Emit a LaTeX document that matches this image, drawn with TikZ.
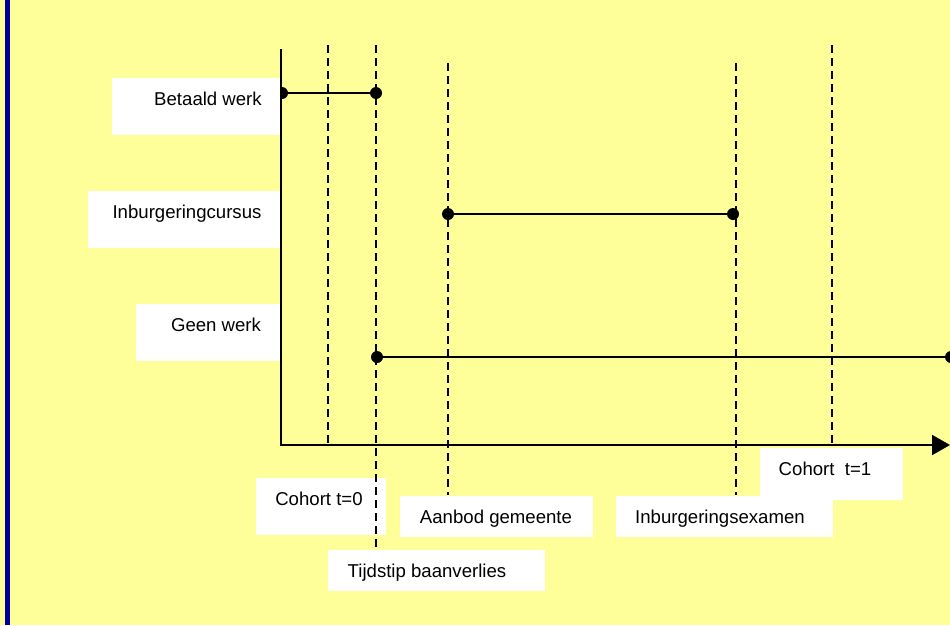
\documentclass[tikz,border=0pt]{standalone}
\usepackage{fontspec}
\setmainfont{Liberation Sans}
\usetikzlibrary{arrows.meta}
\definecolor{bgyellow}{HTML}{FFFF99}
\definecolor{bordblue}{HTML}{000099}
\tikzset{
  lbl/.style={anchor=base, inner sep=0pt, font=\fontsize{18.6}{22}\selectfont},
  wbox/.style={fill=white, draw=none},
  tline/.style={line width=2pt, draw=black},
  vdash/.style={line width=2pt, draw=black, dash pattern=on 8pt off 5pt},
  dot/.style={circle, fill=black, draw=none, minimum size=12pt, inner sep=0pt},
  axis/.style={line width=2pt, draw=black},
}
\begin{document}
\begin{tikzpicture}[x=1pt, y=-1pt]
\useasboundingbox (0,0) rectangle (950,625);
\begin{scope}
\clip (0,0) rectangle (950,625);
% background
\fill[bgyellow] (0,0) rectangle (950,625);
\fill[bordblue] (5,0) rectangle (10,625);

% state lines with dots
\node[dot] (bw1) at (282,93) {};
\node[dot] (bw2) at (376,93) {};
\draw[tline] (bw1) -- (bw2);
\node[dot] (ic1) at (448,214) {};
\node[dot] (ic2) at (733,214) {};
\draw[tline] (ic1) -- (ic2);
\node[dot] (gw1) at (377,357) {};
\node[dot] (gw2) at (951,357) {};
\draw[tline] (gw1) -- (gw2);

% white label boxes
\fill[wbox] (112,78) rectangle (281,135);
\fill[wbox] (88,191) rectangle (281,248);
\fill[wbox] (136,304) rectangle (281,361);
\fill[wbox] (256,478) rectangle (386,535);
\fill[wbox] (400,496) rectangle (593,537);
\fill[wbox] (328,550) rectangle (545,591);
\fill[wbox] (616,496) rectangle (833,537);
\fill[wbox] (760,448) rectangle (903,500);

% dashed time markers
\coordinate (d1t) at (328,45); \coordinate (d1b) at (328,443);
\coordinate (d2t) at (376,45); \coordinate (d2b) at (376,550);
\coordinate (d3t) at (448,63); \coordinate (d3b) at (448,495);
\coordinate (d4t) at (736,63); \coordinate (d4b) at (736,495);
\coordinate (d5t) at (832,45); \coordinate (d5b) at (832,443);
\draw[vdash] (d1t) -- (d1b);
\draw[vdash] (d2t) -- (d2b);
\draw[vdash] (d3t) -- (d3b);
\draw[vdash] (d4t) -- (d4b);
\draw[vdash] (d5t) -- (d5b);

% axes
\coordinate (ytop) at (281,49);
\coordinate (orig) at (281,445);
\coordinate (xend) at (950,445);
\draw[axis] (ytop) -- (orig);
\draw[axis, -{Triangle[length=18pt, width=20pt]}] ([xshift=-1pt]orig) -- (xend);

% labels
\node[lbl] (tbw) at (208,105.5) {Betaald werk};
\node[lbl] (tic) at (187,218.5) {Inburgeringcursus};
\node[lbl] (tgw) at (216,331.5) {Geen werk};
\node[lbl] (tc0) at (319,505.5) {Cohort t=0};
\node[lbl] (tag) at (496,523.5) {Aanbod gemeente};
\node[lbl] (ttb) at (427,577.5) {Tijdstip baanverlies};
\node[lbl] (tie) at (720,523.5) {Inburgeringsexamen};
\node[lbl] (tc1) at (825,475) {Cohort\ \ t=1};
\end{scope}
\end{tikzpicture}
\end{document}
